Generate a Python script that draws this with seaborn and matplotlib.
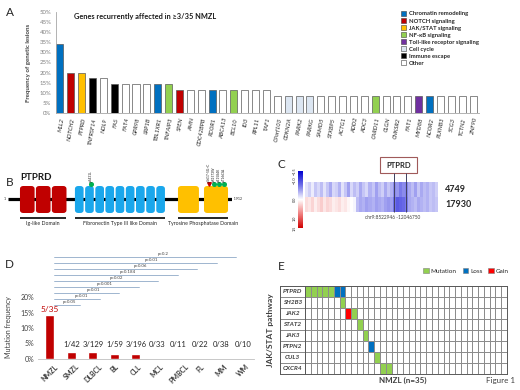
import numpy as np
import pandas as pd
import matplotlib
matplotlib.use('Agg')
import matplotlib.pyplot as plt
import seaborn as sns
from matplotlib.patches import Patch, FancyBboxPatch, Rectangle
from matplotlib.colors import ListedColormap, LinearSegmentedColormap

sns.set_style('white')
plt.rcParams['font.family'] = ['Lato', 'DejaVu Sans']

# ---------------- data ----------------
# A: recurrently affected genes (cases out of 35)
genes = ['MLL2', 'NOTCH2', 'PTPRD', 'TNFRSF14', 'NOL9', 'FAS', 'FAT4', 'GPR98', 'LRP1B',
         'TBL1XR1', 'TNFAIP3', 'SPEN', 'AMN', 'CDC42BPB', 'RCOR1', 'ABCA13', 'BCL10', 'ID3',
         'RPL11', 'TAF1', 'C9orf103', 'CDKN2A', 'PARK2', 'PARKG', 'SAMD5', 'STXBP5', 'ACTG1',
         'ADD2', 'ADC3', 'CARD11', 'CLGN', 'CNKSR2', 'FAT1', 'MYD88', 'NCOR2', 'PLXNB3',
         'SCG3', 'TCTN2', 'ZNF90']
n_cases = [12, 7, 7, 6, 6, 5, 5, 5, 5, 5, 5, 4, 4, 4, 4, 4, 4, 4, 4, 4,
           3, 3, 3, 3, 3, 3, 3, 3, 3, 3, 3, 3, 3, 3, 3, 3, 3, 3, 3]
pathway = ['chrom', 'notch', 'jak', 'immune', 'other', 'immune', 'other', 'other', 'other',
           'chrom', 'nfkb', 'notch', 'other', 'other', 'chrom', 'other', 'nfkb', 'other',
           'other', 'other', 'other', 'cell', 'cell', 'cell', 'other', 'other', 'other',
           'other', 'other', 'nfkb', 'other', 'other', 'other', 'tlr', 'chrom', 'other',
           'other', 'other', 'other']
pathway_names = ['Chromatin remodeling', 'NOTCH signaling', 'JAK/STAT signaling', 'NF-\u03baB signaling',
                 'Toll-like receptor signaling', 'Cell cycle', 'Immune escape', 'Other']
pathway_keys = ['chrom', 'notch', 'jak', 'nfkb', 'tlr', 'cell', 'immune', 'other']
pathway_colors = ['#0070C0', '#C00000', '#FFC000', '#92D050', '#7030A0', '#DCE6F2', '#000000', '#FFFFFF']

# B: PTPRD protein (aa coordinates)
protein_len = 1912
ig_domains = [(103, 228), (239, 364), (375, 500)]
fn_domains = [(572, 646), (659, 733), (746, 820), (832, 906), (919, 993),
              (1006, 1080), (1093, 1167), (1180, 1254), (1266, 1340)]
tp_domains = [(1451, 1630), (1673, 1878)]
domain_groups = [('Ig-like Domain', 103, 500), ('Fibronectin Type III like Domain', 572, 1340),
                 ('Tyrosine Phosphatase Domain', 1451, 1878)]
mut_pos = [708, 1715, 1757, 1800, 1843]
mut_type = ['missense', 'splice', 'missense', 'missense', 'missense']
mut_label = ['p.S431L', 'c.5617-5G>C', 'p.R1573W', 'p.E1584K', 'p.T1663A']

# C: copy number along chr9 (log ratio)
cn_4749 = [-0.15, -0.25, -0.1, -0.3, -0.2, -0.35, -0.15, -0.3, -0.45, -0.2, -0.25,
           -0.4, -0.15, -0.3, -0.5, -0.2, -0.35, -0.25, -0.45, -0.3, -0.2, -0.4,
           -0.3, -0.5, -0.35, -0.25, -0.45, -0.3, -0.4, -0.6, -0.55, -0.7, -0.6,
           -0.65, -0.45, -0.35, -0.5, -0.3, -0.45, -0.35, -0.4, -0.3, -0.35, -0.25]
cn_17930 = [0.2, 0.15, 0.25, 0.1, 0.2, 0.3, 0.15, 0.25, 0.2, 0.1, 0.15, 0.2, 0.1,
            0.15, 0.05, 0.0, -0.05, -0.35, -0.45, -0.4, -0.5, -0.45, -0.4, -0.5,
            -0.45, -0.4, -0.5, -0.55, -0.5, -0.75, -0.9, -0.85, -0.8, -0.7, -0.45,
            -0.4, -0.35, -0.45, -0.4, -0.35, -0.4, -0.3, -0.35, -0.3]
cn_rows = ['4749', '17930']
ptprd_cols = (29.5, 33.5)

# D: PTPRD mutation frequency in lymphomas
lymphomas = ['NMZL', 'SMZL', 'DLBCL', 'BL', 'CLL', 'MCL', 'PMBCL', 'FL', 'MM', 'WM']
mutated = [5, 1, 3, 1, 3, 0, 0, 0, 0, 0]
total = [35, 42, 129, 59, 196, 33, 11, 22, 38, 10]
p_compare = ['SMZL', 'DLBCL', 'BL', 'CLL', 'MCL', 'PMBCL', 'FL', 'MM', 'WM']
p_values = ['p=0.05', 'p=0.01', 'p=0.01', 'p=0.001', 'p=0.02', 'p=0.184', 'p=0.06', 'p=0.01', 'p=0.2']

# E: JAK/STAT pathway lesions in 35 NMZL
e_genes = ['PTPRD', 'SH2B3', 'JAK2', 'STAT2', 'JAK3', 'PTPN2', 'CUL3', 'CXCR4']
n_nmzl = 35
e_mutation = {'PTPRD': [0, 1, 2, 3, 4], 'SH2B3': [6], 'JAK2': [8], 'STAT2': [9],
              'JAK3': [10], 'CUL3': [12], 'CXCR4': [13, 14]}
e_loss = {'PTPRD': [5, 6], 'PTPN2': [11]}
e_gain = {'JAK2': [7]}

# ---------------- figure ----------------
W, H = 520, 390
fig = plt.figure(figsize=(5.2, 3.9), dpi=100)


def box(x0, y0, x1, y1):
    return [x0 / W, 1 - y1 / H, (x1 - x0) / W, (y1 - y0) / H]


def ftext(x, y, s, **kw):
    fig.text(x / W, 1 - y / H, s, **kw)


for lab, x, y in [('A', 10, 13), ('B', 10, 183), ('C', 281, 164), ('D', 9, 264), ('E', 281, 266)]:
    ftext(x, y, lab, fontsize=8.5, color='#262626', ha='center', va='center')

# ---- A
axA = fig.add_axes(box(55.5, 11.7, 478.5, 113.3))
col_map = dict(zip(pathway_keys, pathway_colors))
dfA = pd.DataFrame({'gene': genes, 'freq': np.array(n_cases) / 35, 'path': pathway})
palA = {g: col_map[p] for g, p in zip(genes, pathway)}
sns.barplot(data=dfA, x='gene', y='freq', hue='gene', palette=palA, legend=False,
            width=0.65, edgecolor='#595959', linewidth=0.5, saturation=1, ax=axA)
axA.set_xlim(-0.4, len(genes) - 0.5)
axA.set_ylim(0, 0.5)
yt = np.arange(0, 0.51, 0.05)
axA.set_yticks(yt)
axA.set_yticklabels([f'{round(v * 100)}%' for v in yt], fontsize=4.3, color='#808080')
axA.set_xticks(range(len(genes)))
axA.set_xticklabels(genes, rotation=80, fontsize=4.2, style='italic', color='#262626',
                    ha='right', rotation_mode='anchor')
axA.tick_params(axis='both', length=1.5, width=0.4, pad=1.5, color='#a6a6a6')
axA.set_xlabel('')
axA.set_ylabel('Frequency of genetic lesions', fontsize=4.4, fontweight='bold', color='#404040')
axA.yaxis.set_label_coords(-0.058, 0.5)
for s in ['top', 'right']:
    axA.spines[s].set_visible(False)
for s in ['left', 'bottom']:
    axA.spines[s].set_color('#a6a6a6')
    axA.spines[s].set_linewidth(0.6)
ftext(145, 17, 'Genes recurrently affected in \u22653/35 NMZL', fontsize=5.3,
      fontweight='bold', color='#1a1a1a', ha='center', va='center')
handlesA = [Patch(facecolor=c, edgecolor='#404040', linewidth=0.4) for c in pathway_colors]
fig.legend(handlesA, pathway_names, loc='upper left', bbox_to_anchor=(401 / W, 1 - 11 / H),
           frameon=False, prop={'size': 4.2, 'weight': 'bold'}, handlelength=0.9,
           handleheight=0.9, labelspacing=0.28, handletextpad=0.5, borderpad=0, borderaxespad=0)

# ---- B
axB = fig.add_axes(box(8, 160, 232, 232))
axB.set_xlim(1, protein_len)
axB.set_ylim(232, 160)
axB.axis('off')
axB.plot([1, protein_len], [199, 199], color='black', lw=2.3, solid_capstyle='butt', zorder=1)
for doms, col in [(ig_domains, '#C00000'), (fn_domains, '#1AA7EC'), (tp_domains, '#FFC000')]:
    for s, e in doms:
        axB.add_patch(FancyBboxPatch((s, 186), e - s, 27,
                                     boxstyle='round,pad=0,rounding_size=28',
                                     mutation_aspect=0.11, fc=col, ec='none', zorder=2))
for name, s, e in domain_groups:
    axB.plot([s, e], [217.5, 217.5], color='black', lw=1.2, solid_capstyle='butt')
    axB.text((s + e) / 2, 223.5, name, fontsize=3.8, color='#262626', ha='center', va='center')
for pos, t, lab in zip(mut_pos, mut_type, mut_label):
    if t == 'splice':
        axB.plot(pos, 184, marker='v', color='#C00000', ms=2.6, zorder=3)
    else:
        axB.plot(pos, 184, marker='o', color='#00B050', ms=2.6, zorder=3)
    axB.text(pos, 182, lab, fontsize=2.3, rotation=90, ha='center', va='bottom', color='#262626')
axB.text(1, 199, '1  ', fontsize=2.5, ha='right', va='center')
axB.text(protein_len, 199, '  1912', fontsize=2.5, ha='left', va='center')
ftext(36, 178, 'PTPRD', fontsize=7, fontweight='bold', color='#1a1a1a', ha='center', va='center')

# ---- C
cmapC = LinearSegmentedColormap.from_list('cn', ['#0000d0', '#7070e8', '#ffffff', '#f08080', '#d00000'])
axC = fig.add_axes(box(305, 182, 438, 212))
cax = fig.add_axes(box(298, 171, 303, 228))
dfC = pd.DataFrame([cn_4749, cn_17930], index=cn_rows)
sns.heatmap(dfC, cmap=cmapC, vmin=-1.5, vmax=1.5, ax=axC, cbar_ax=cax,
            xticklabels=False, yticklabels=False)
cb = axC.collections[0].colorbar
cb.outline.set_visible(False)
cb.ax.invert_yaxis()
cb.set_ticks([-1.5, -1, 0, 1, 1.5])
cb.ax.yaxis.set_ticks_position('left')
cb.ax.tick_params(length=0, pad=1, labelsize=2.8)
for t in cb.ax.get_yticklabels():
    t.set_rotation(90)
    t.set_va('center')
axC.vlines(ptprd_cols, -0.6, 2, color='#404060', lw=0.7, clip_on=False)
axC.add_patch(Rectangle((24.8, -1.65), 12.3, 1.05, fc='white', ec='#a05a5a', lw=0.8, clip_on=False))
axC.text(31.0, -1.12, 'PTPRD', fontsize=5.5, fontweight='bold', ha='center', va='center')
for i, r in enumerate(cn_rows):
    axC.text(46.3, i + 0.5, r, fontsize=6.5, fontweight='bold', ha='left', va='center')
axC.text(29, 2.35, 'chr9:8522946 -12046750', fontsize=3.4, color='#404040', ha='center', va='center')

# ---- D
axD = fig.add_axes(box(38.2, 250.5, 253.7, 359))
dfD = pd.DataFrame({'type': lymphomas, 'mut': mutated, 'tot': total})
dfD['freq'] = dfD['mut'] / dfD['tot']
sns.barplot(data=dfD, x='type', y='freq', color='#C00000', saturation=1, width=0.42, ax=axD)
axD.set_xlim(-0.55, len(lymphomas) - 0.5)
axD.set_ylim(0, 0.35)
ytD = [0, 0.05, 0.1, 0.15, 0.2]
axD.set_yticks(ytD)
axD.set_yticklabels([f'{round(v * 100)}%' for v in ytD], fontsize=5, color='#404040')
axD.set_xticks(range(len(lymphomas)))
axD.set_xticklabels(lymphomas, rotation=45, fontsize=5, fontweight='bold', color='#404040',
                    ha='center', va='top')
axD.tick_params(axis='both', length=0, pad=3)
axD.set_xlabel('')
axD.set_ylabel('Mutation frequency', fontsize=5, color='#404040')
axD.yaxis.set_label_coords(-0.12, 0.295)
for s in ['top', 'right', 'left']:
    axD.spines[s].set_visible(False)
axD.spines['bottom'].set_color('#bfbfbf')
axD.spines['bottom'].set_linewidth(0.6)
for i, (m, t, f) in enumerate(zip(mutated, total, dfD['freq'])):
    if i == 0:
        axD.text(i, f + 0.006, f'{m}/{t}', fontsize=6, color='#C00000', ha='center', va='bottom')
    else:
        axD.text(i, 0.046, f'{m}/{t}', fontsize=5.5, color='#262626', ha='center', va='center')
for k, (name, p) in enumerate(zip(p_compare, p_values)):
    j = lymphomas.index(name)
    y = 0.174 + k * 0.0193
    x0, x1 = 0.19, 0.5 + 0.91 * j
    axD.plot([x0, x1], [y, y], color='#8faac8', lw=0.6, clip_on=False)
    axD.text(x0 + 0.6 * (x1 - x0), y + 0.004, p, fontsize=3.2, color='#404040', ha='center', va='bottom')

# ---- E
mat = np.zeros((len(e_genes), n_nmzl))
for code, d in [(1, e_mutation), (2, e_loss), (3, e_gain)]:
    for g, idx in d.items():
        mat[e_genes.index(g), idx] = code
cmapE = ListedColormap(['#FFFFFF', '#92D050', '#0070C0', '#FF0000'])
axE = fig.add_axes(box(305, 286, 507, 374))
sns.heatmap(mat, cmap=cmapE, vmin=-0.5, vmax=3.5, cbar=False, linewidths=0.5,
            linecolor='#8c8c8c', xticklabels=False, yticklabels=False, ax=axE)
axEl = fig.add_axes(box(280, 286, 305, 374))
sns.heatmap(np.zeros((len(e_genes), 1)), cmap=ListedColormap(['#FFFFFF']), cbar=False,
            linewidths=0.5, linecolor='#8c8c8c', xticklabels=False, yticklabels=False, ax=axEl)
for i, g in enumerate(e_genes):
    axEl.text(0.5, i + 0.5, g, fontsize=4.6, fontweight='bold', style='italic',
              color='#404040', ha='center', va='center')
for ax in (axE, axEl):
    for s in ax.spines.values():
        s.set_visible(True)
        s.set_color('#595959')
        s.set_linewidth(0.7)
handlesE = [Patch(facecolor=c, edgecolor='#7f7f7f', linewidth=0.4) for c in ['#92D050', '#0070C0', '#FF0000']]
fig.legend(handlesE, ['Mutation', 'Loss', 'Gain'], loc='upper right',
           bbox_to_anchor=(509 / W, 1 - 268 / H), ncol=3, frameon=False, fontsize=4.6,
           handlelength=0.9, handleheight=0.9, handletextpad=0.3, columnspacing=0.9,
           borderpad=0, borderaxespad=0)
ftext(270, 330, 'JAK/STAT pathway', fontsize=6, fontweight='bold', color='#404040',
      rotation=90, ha='center', va='center')
ftext(403, 380, 'NMZL (n=35)', fontsize=5.8, fontweight='bold', color='#404040', ha='center', va='center')
ftext(500, 380, 'Figure 1', fontsize=5.8, color='#404040', ha='center', va='center')

fig.savefig('out.png', dpi=100)
